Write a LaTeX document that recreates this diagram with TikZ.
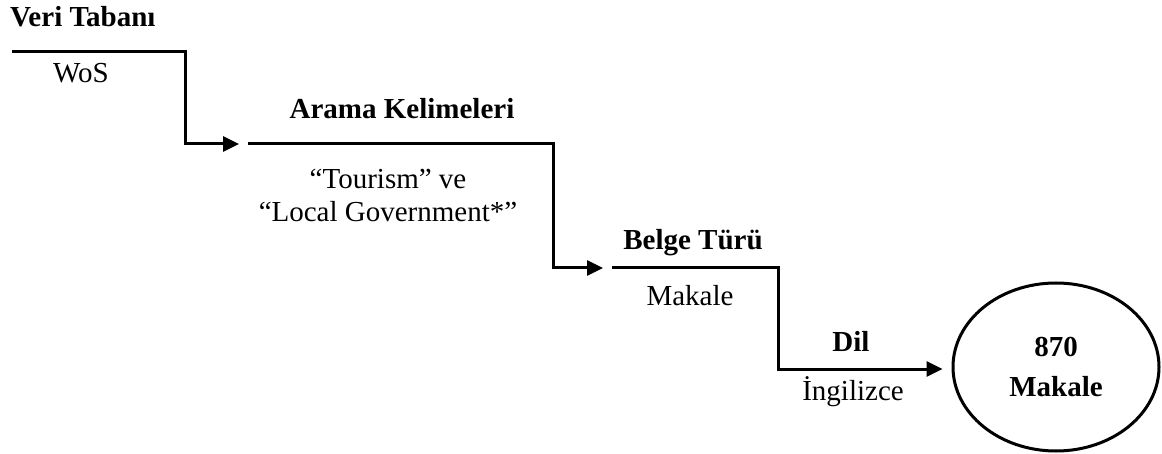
\documentclass[tikz,border=0pt]{standalone}
\usepackage{fontspec}
\setmainfont{Liberation Serif}
\usetikzlibrary{arrows.meta,shapes.geometric}
\tikzset{
  flow/.style={line width=3pt,-{Triangle[length=16pt,width=15pt]}},
  lbl/.style={inner sep=0pt,font=\fontsize{29}{33}\selectfont},
  hdr/.style={lbl,font=\fontsize{29}{33}\selectfont\bfseries},
  result/.style={draw,ellipse,line width=3pt,minimum width=206pt,minimum height=168pt,inner sep=0pt,align=center,font=\fontsize{29}{40}\selectfont\bfseries}
}
\begin{document}
\begin{tikzpicture}[x=1pt,y=-1pt]
\useasboundingbox (0,0) rectangle (1162,454);
% start points and corners
\coordinate (s1) at (12,52);
\coordinate (c1) at (185,52);
\coordinate (s2) at (248,144);
\coordinate (c2) at (553,144);
\coordinate (s3) at (612,268);
\coordinate (c3) at (778,268);
\node[result] (res) at (1056,367) {870\\Makale};
% labels
\node[hdr,anchor=west] (h1) at (10,17) {Veri Tabanı};
\node[lbl] (t1) at (81,73) {WoS};
\node[hdr] (h2) at (402,109) {Arama Kelimeleri};
\node[lbl,align=center,font=\fontsize{29}{33}\selectfont] (t2) at (388,195) {“Tourism” ve\\“Local Government*”};
\node[hdr] (h3) at (693,243) {Belge Türü};
\node[lbl] (t3) at (690,296) {Makale};
\node[hdr] (h4) at (851,341) {Dil};
\node[lbl] (t4) at (853,392) {İngilizce};
% connectors
\draw[flow] (s1) -- (c1) |- ([xshift=-9pt]s2);
\draw[flow] (s2) -- (c2) |- ([xshift=-9pt]s3);
\draw[flow] (s3) -- (c3) |- ([xshift=-9pt,yshift=-2pt]res.west);
\end{tikzpicture}
\end{document}
